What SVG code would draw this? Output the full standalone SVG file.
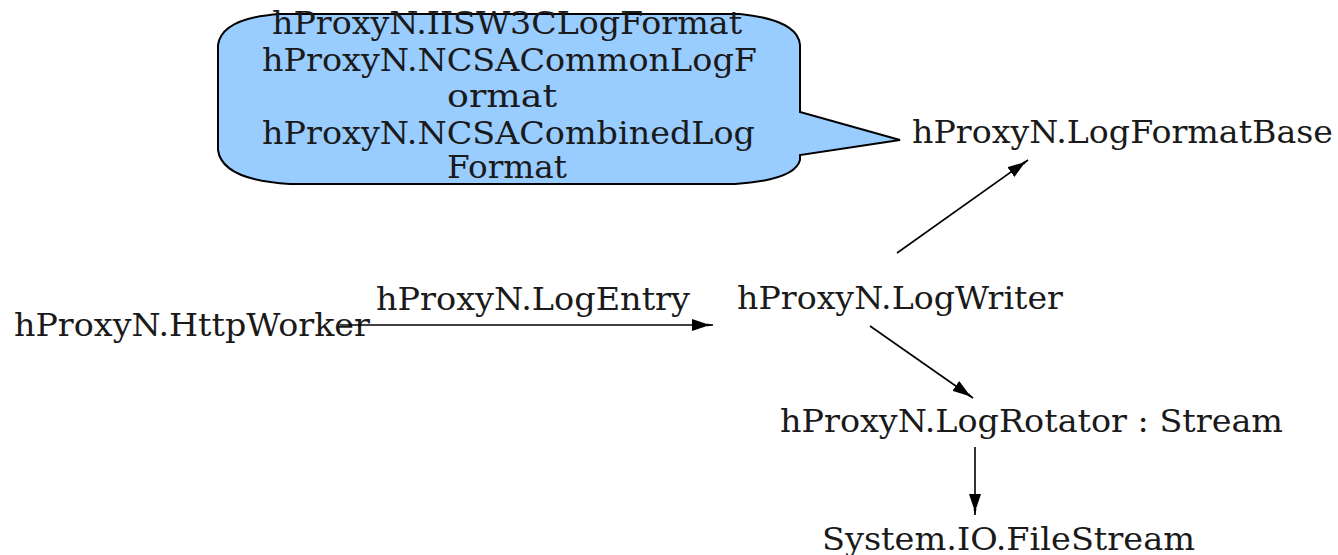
<svg xmlns="http://www.w3.org/2000/svg" width="1338" height="555" viewBox="0 0 1338 555">
<style>
text{font-family:"DejaVu Serif","Liberation Serif",serif;font-size:31px;fill:#1a1a1a}
.e{stroke:#000;stroke-width:1.6;fill:none;marker-end:url(#ah)}
</style>
<defs>
<marker id="ah" viewBox="0 0 22 12" refX="21" refY="6" markerWidth="22" markerHeight="12" markerUnits="userSpaceOnUse" orient="auto"><path d="M0,0 L15,5 L15,7 L0,12 z" fill="#000"/><path d="M15,4.5 L21,6 L15,7.5 z" fill="#000"/></marker>
</defs>
<rect width="1338" height="555" fill="#fff"/>
<g id="note">
<path d="M280,14 L740,14 Q798,20 800,45 L800,112 L900,140 L800,155 L800,160 Q795,180 735,184 L290,184 Q222,180 218,150 L218,45 Q222,18 280,14 Z" fill="#99ccff" stroke="#000" stroke-width="2"/>
<text x="272" y="34" textLength="470" lengthAdjust="spacingAndGlyphs">hProxyN.IISW3CLogFormat</text>
<text x="262" y="71" textLength="495" lengthAdjust="spacingAndGlyphs">hProxyN.NCSACommonLogF</text>
<text x="447" y="107" textLength="110" lengthAdjust="spacingAndGlyphs">ormat</text>
<text x="262" y="144" textLength="493" lengthAdjust="spacingAndGlyphs">hProxyN.NCSACombinedLog</text>
<text x="447" y="178" textLength="120" lengthAdjust="spacingAndGlyphs">Format</text>
</g>
<g id="n_httpworker"><text x="14" y="336" textLength="356" lengthAdjust="spacingAndGlyphs">hProxyN.HttpWorker</text></g>
<g id="n_logwriter"><text x="737" y="309" textLength="326" lengthAdjust="spacingAndGlyphs">hProxyN.LogWriter</text></g>
<g id="n_logformatbase"><text x="912" y="143" textLength="421" lengthAdjust="spacingAndGlyphs">hProxyN.LogFormatBase</text></g>
<g id="n_logrotator"><text x="780" y="432" textLength="503" lengthAdjust="spacingAndGlyphs">hProxyN.LogRotator : Stream</text></g>
<g id="n_filestream"><text x="822" y="550" textLength="373" lengthAdjust="spacingAndGlyphs">System.IO.FileStream</text></g>
<g id="edges">
<line class="e" x1="340" y1="325" x2="713" y2="325"/>
<text x="376" y="310" textLength="314" lengthAdjust="spacingAndGlyphs">hProxyN.LogEntry</text>
<line class="e" x1="897" y1="253" x2="1028" y2="160"/>
<line class="e" x1="870" y1="326" x2="973" y2="398"/>
<line class="e" x1="975" y1="447" x2="975" y2="515"/>
</g>
</svg>
